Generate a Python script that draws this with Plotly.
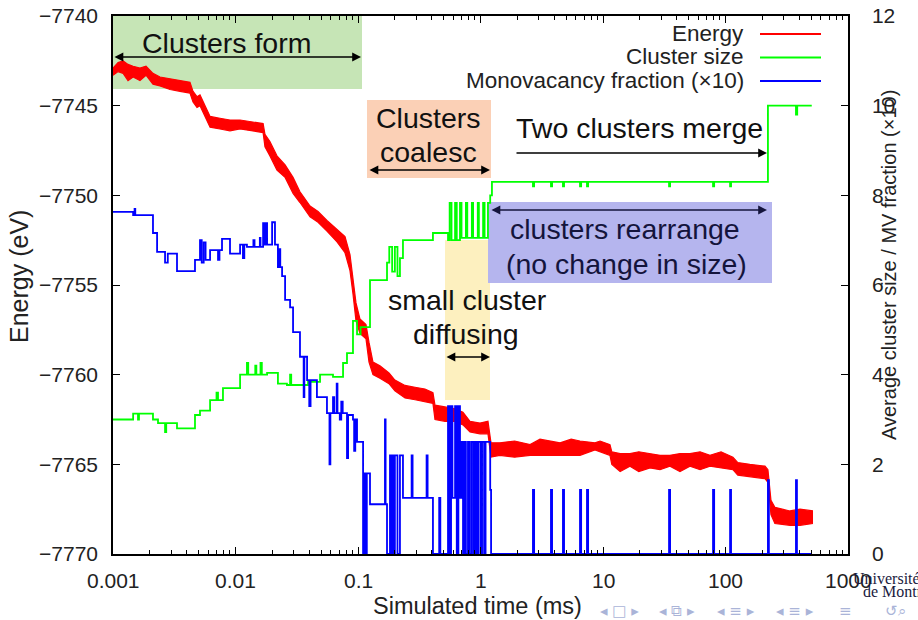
import math
import plotly.graph_objects as go

# ---------------------------------------------------------------- data
# Energy envelope (eV): the trace is noisy, so it is stored as upper/lower edges
energy_time = [0.001, 0.0011, 0.00121, 0.001326, 0.00146, 0.00166, 0.00186, 0.00212,
               0.00242, 0.00292, 0.00352, 0.00425, 0.0045, 0.00485, 0.00513, 0.00564,
               0.0062, 0.00747, 0.00902, 0.0109, 0.0131, 0.0158, 0.0168, 0.0174,
               0.0191, 0.0218, 0.0254, 0.0295, 0.0336, 0.0406, 0.0472, 0.0558,
               0.0674, 0.0783, 0.086, 0.091, 0.0963, 0.1038, 0.1162, 0.123,
               0.1325, 0.151, 0.179, 0.2, 0.242, 0.292, 0.352, 0.409,
               0.425, 0.513, 0.619, 0.719, 0.821, 0.991, 1.151, 1.218,
               1.44, 1.9, 2.54, 3.06, 4.46, 5.5, 6.49, 8.6,
               9.46, 11.4, 11.8, 13.8, 16.6, 19.6, 24.2, 29.2,
               35.2, 42.5, 51.3, 62, 74.7, 92, 115, 126,
               158, 210, 222, 235, 253, 336, 406, 518]
energy_hi = [-7742.9, -7742.6, -7742.5, -7742.7, -7742.8, -7742.9, -7742.8, -7743.2,
             -7743.4, -7743.5, -7743.6, -7743.7, -7744.2, -7744.5, -7744.4, -7745.0,
             -7745.6, -7745.7, -7745.8, -7745.8, -7745.9, -7746.0, -7746.0, -7746.6,
             -7747.0, -7747.8, -7748.3, -7749.0, -7749.8, -7750.6, -7750.9, -7751.4,
             -7751.9, -7752.3, -7753.3, -7754.5, -7756.0, -7756.9, -7757.2, -7758.2,
             -7759.3, -7759.5, -7759.9, -7760.3, -7760.6, -7760.7, -7760.8, -7761.0,
             -7761.7, -7761.8, -7761.9, -7762.1, -7762.6, -7762.7, -7762.6, -7763.8,
             -7763.8, -7763.7, -7763.9, -7763.6, -7763.8, -7763.6, -7763.7, -7763.8,
             -7763.7, -7763.9, -7764.3, -7764.4, -7764.4, -7764.3, -7764.4, -7764.5,
             -7764.5, -7764.4, -7764.4, -7764.3, -7764.5, -7764.3, -7764.6, -7764.9,
             -7765.0, -7765.1, -7765.3, -7767.0, -7767.4, -7767.6, -7767.5, -7767.6]
energy_lo = [-7743.3, -7743.1, -7743.2, -7743.6, -7743.4, -7743.6, -7743.3, -7743.8,
             -7743.9, -7744.1, -7744.2, -7744.3, -7744.8, -7745.1, -7745.0, -7745.6,
             -7746.2, -7746.3, -7746.4, -7746.3, -7746.4, -7746.5, -7746.5, -7747.3,
             -7747.8, -7748.6, -7749.0, -7749.9, -7750.4, -7751.2, -7751.5, -7752.0,
             -7752.6, -7753.2, -7754.2, -7755.5, -7757.0, -7757.7, -7758.0, -7759.3,
             -7760.0, -7760.2, -7760.5, -7760.9, -7761.3, -7761.4, -7761.5, -7761.6,
             -7762.5, -7762.6, -7762.6, -7762.8, -7763.2, -7763.3, -7763.3, -7764.6,
             -7764.5, -7764.6, -7764.5, -7764.5, -7764.5, -7764.5, -7764.5, -7764.2,
             -7764.3, -7764.5, -7765.0, -7765.4, -7765.1, -7765.4, -7765.2, -7765.3,
             -7765.1, -7765.4, -7765.1, -7765.3, -7765.1, -7765.2, -7765.3, -7765.6,
             -7765.7, -7765.8, -7766.0, -7767.8, -7768.3, -7768.4, -7768.4, -7768.3]

# Average cluster size (step data)
cluster_time = [0.001, 0.00146, 0.0016, 0.00163, 0.00212, 0.00233, 0.00266, 0.00272,
                0.00333, 0.00467, 0.00513, 0.0062, 0.0070, 0.0072, 0.0079, 0.0109,
                0.0124, 0.0127, 0.0145, 0.0148, 0.0160, 0.0164, 0.0181, 0.0222,
                0.0263, 0.0279, 0.0285, 0.0391, 0.049, 0.0625, 0.0755, 0.0813,
                0.091, 0.0982, 0.105, 0.1253, 0.1725, 0.18, 0.19, 0.20,
                0.21, 0.22, 0.2328, 0.409, 0.543, 0.56, 0.58, 0.62,
                0.64, 0.68, 0.70, 0.76, 0.78, 0.85, 0.87, 0.95,
                0.97, 1.05, 1.08, 1.15, 1.2, 1.24, 2.68, 2.74,
                3.76, 3.84, 4.71, 4.81, 6.49, 6.63, 7.40, 7.56,
                34.6, 35.3, 79.1, 80.8, 109, 111, 222, 376, 385, 506]
cluster_size = [3.0, 3.13, 3.0, 3.13, 3.0, 2.92, 2.72, 2.92,
                2.8, 3.1, 3.2, 3.43, 3.6, 3.43, 3.7, 4.0,
                4.26, 4.0, 4.2, 4.0, 4.26, 4.0, 4.04, 3.8,
                3.77, 4.0, 3.77, 3.84, 4.0, 3.95, 4.26, 4.48,
                5.2, 4.9, 5.06, 6.11, 6.5, 6.85, 6.3, 6.85,
                6.2, 6.6, 7.0, 7.16, 7.0, 7.83, 7.0, 7.83,
                7.0, 7.83, 7.05, 7.83, 7.05, 7.83, 7.05, 7.83,
                7.05, 7.83, 7.05, 7.83, 8.0, 8.3, 8.2, 8.3,
                8.2, 8.3, 8.2, 8.3, 8.2, 8.3, 8.2, 8.3,
                8.2, 8.3, 8.2, 8.3, 8.2, 8.3, 10.0, 9.8, 10.0, 10.0]

# Monovacancy fraction, scaled by 10 (step data)
mono_time = [0.001, 0.00146, 0.0015, 0.00152, 0.00212, 0.00229, 0.00266, 0.0028,
             0.00333, 0.00467, 0.00513, 0.0053, 0.0055, 0.0057, 0.0062, 0.0072,
             0.0074, 0.00776, 0.00902, 0.0109, 0.0115, 0.0118, 0.0124, 0.0140,
             0.0143, 0.0158, 0.0160, 0.0168, 0.0172, 0.0176, 0.0181, 0.0199,
             0.0210, 0.0222, 0.0228, 0.0232, 0.0240, 0.0254, 0.0279, 0.0295,
             0.0336, 0.0360, 0.0365, 0.0384, 0.0400, 0.0410, 0.0462, 0.0558,
             0.0585, 0.0595, 0.0625, 0.0640, 0.0670, 0.0680, 0.0710, 0.0730,
             0.0750, 0.0813, 0.0830, 0.0910, 0.0930, 0.0950, 0.0982, 0.1100,
             0.1130, 0.1160, 0.1180, 0.1253, 0.1660, 0.1680, 0.1725, 0.1824,
             0.1860, 0.1900, 0.1950, 0.2000, 0.2100, 0.2200, 0.2328, 0.2740,
             0.2790, 0.3630, 0.3700, 0.4090, 0.4600, 0.4700, 0.5430, 0.5600,
             0.5750, 0.5900, 0.6200, 0.6400, 0.6600, 0.6800, 0.7000, 0.7200,
             0.7400, 0.7600, 0.7900, 0.8100, 0.8400, 0.8700, 0.9000, 0.9300,
             0.9600, 1.0000, 1.0300, 1.0700, 1.1000, 1.2000, 1.2200, 2.68,
             2.74, 3.76, 3.84, 4.71, 4.81, 6.49, 6.63, 7.40,
             7.56, 34.6, 35.3, 79.1, 80.8, 109, 111, 222,
             226, 376, 383, 506]
mono_frac10 = [7.63, 7.56, 7.7, 7.56, 7.16, 6.74, 6.5, 6.7,
               6.31, 6.56, 7.0, 6.5, 6.95, 6.56, 6.78, 6.56,
               6.78, 7.03, 6.7, 6.9, 6.6, 6.9, 6.85, 7.0,
               6.85, 7.05, 6.85, 7.38, 6.9, 7.38, 6.9, 7.4,
               6.9, 6.4, 6.8, 6.4, 6.2, 5.67, 5.5, 4.95,
               4.4, 3.5, 4.4, 3.88, 3.3, 3.88, 3.5, 3.14,
               2.0, 3.14, 3.5, 3.14, 3.8, 3.14, 3.0, 3.4,
               3.14, 2.14, 3.1, 3.0, 2.3, 3.0, 2.5, 0.0,
               1.8, 0.0, 1.8, 1.11, 3.0, 1.11, 0.0, 2.2,
               0.0, 2.2, 0.0, 2.2, 0.0, 2.2, 1.25, 2.2,
               1.25, 2.2, 1.25, 0.0, 1.25, 0.0, 3.3, 0.0,
               3.3, 1.25, 3.3, 0.0, 3.3, 1.25, 2.5, 0.0,
               2.5, 0.0, 2.5, 0.0, 2.5, 0.0, 2.5, 0.0,
               2.5, 0.0, 2.5, 0.0, 2.5, 1.43, 0.0, 1.43,
               0.0, 1.43, 0.0, 1.43, 0.0, 1.43, 0.0, 1.43,
               0.0, 1.43, 0.0, 1.43, 0.0, 1.43, 0.0, 1.65,
               0.0, 1.65, 0.0, 0.0]

assert len(energy_time) == len(energy_hi) == len(energy_lo)
assert len(cluster_time) == len(cluster_size)
assert len(mono_time) == len(mono_frac10)

x_tick_vals = [0.001, 0.01, 0.1, 1, 10, 100, 1000]
x_tick_text = ["0.001", "0.01", "0.1", "1", "10", "100", "1000"]
x_minor_vals = [m * d for d in [0.001, 0.01, 0.1, 1, 10, 100] for m in range(2, 10)]
y_left_ticks = [-7770, -7765, -7760, -7755, -7750, -7745, -7740]
y_right_ticks = [0, 2, 4, 6, 8, 10, 12]

legend_names = ["Energy", "Cluster size", "Monovacancy fraction (\u00d710)"]
RED, GREEN, BLUE = "#ff0000", "#00ff00", "#0000ff"
legend_colors = [RED, GREEN, BLUE]

# ---------------------------------------------------------------- geometry
W, H = 918, 620
L, R, T, B = 113, 848, 16, 554          # plot area in page pixels
FONT = "Liberation Sans, Arial, Helvetica, sans-serif"
TICK_COLOR = "#222222"


def px(x):
    return (x - L) / (R - L)


def py(y):
    return (B - y) / (B - T)


fig = go.Figure()

# energy band
fig.add_trace(go.Scatter(x=energy_time, y=energy_hi, mode="lines",
                         line=dict(color=RED, width=1.2), yaxis="y",
                         showlegend=False, hoverinfo="skip"))
fig.add_trace(go.Scatter(x=energy_time, y=energy_lo, mode="lines",
                         line=dict(color=RED, width=1.2), fill="tonexty",
                         fillcolor=RED, yaxis="y", showlegend=False))
# cluster size
fig.add_trace(go.Scatter(x=cluster_time, y=cluster_size, mode="lines",
                         line=dict(color=GREEN, width=1.8, shape="hv"),
                         yaxis="y2", showlegend=False))
# monovacancy fraction
fig.add_trace(go.Scatter(x=mono_time, y=mono_frac10, mode="lines",
                         line=dict(color=BLUE, width=1.8, shape="hv"),
                         yaxis="y2", showlegend=False))

shapes = []
annotations = []


def box(x0, y0, x1, y1, color):
    shapes.append(dict(type="rect", xref="paper", yref="paper",
                       x0=px(x0), x1=px(x1), y0=py(y1), y1=py(y0),
                       fillcolor=color, line=dict(width=0), layer="below"))


def text(s, x, y, size=28.5, color="#111111", anchor="center", angle=0, family=FONT):
    annotations.append(dict(text=s, x=px(x), y=py(y), xref="paper", yref="paper",
                            showarrow=False, xanchor=anchor, yanchor="middle",
                            textangle=angle,
                            font=dict(family=family, size=size, color=color)))


def arrow(x_from, x_to, y, both=True, color="#000000"):
    annotations.append(dict(text="", x=px(x_to), y=py(y), xref="paper", yref="paper",
                            ax=x_from - x_to, ay=0, axref="pixel", ayref="pixel",
                            showarrow=True, arrowhead=2, arrowsize=1.1,
                            arrowwidth=1.6, arrowcolor=color,
                            arrowside="end+start" if both else "end",
                            standoff=0, startstandoff=0))


# time-axis labels, placed on the log axis itself
for v, lab in zip(x_tick_vals, x_tick_text):
    annotations.append(dict(text=lab, x=math.log10(v), xref="x",
                            y=py(580), yref="paper", showarrow=False,
                            xanchor="center", yanchor="middle",
                            font=dict(family=FONT, size=21, color=TICK_COLOR)))

# highlighted regions
box(113, 16, 362, 89, "#c6e5b6")
box(367, 100, 491, 178, "#fbd0b6")
box(445, 240, 490, 400, "#fdf0bf")
box(488, 202, 772, 283, "#b5b5ee")

text("Clusters form", 226, 43)
arrow(113, 361, 57)
text("Clusters", 428, 118)
text("coalesc", 428, 152)
arrow(368, 490, 170)
text("Two clusters merge", 639, 128)
arrow(515, 767, 153, both=False)
arrow(490, 767, 210, color="#14143c")
text("clusters rearrange", 625, 229, color="#14143c")
text("(no change in size)", 626, 264, color="#14143c")
text("small cluster", 467, 300)
text("diffusing", 466, 334)
arrow(445, 490, 357)

# legend (text on the left, line sample on the right)
for i, (name, col) in enumerate(zip(legend_names, legend_colors)):
    yy = 33 + i * 23.5
    text(name, 746, yy, size=22.5, color=TICK_COLOR, anchor="right")
    shapes.append(dict(type="line", xref="paper", yref="paper",
                       x0=px(760), x1=px(821), y0=py(yy + 1), y1=py(yy + 1),
                       line=dict(color=col, width=1.8)))

# axis titles
text("Energy (eV)", 19, 277, size=25, color=TICK_COLOR, angle=-90)
text("Simulated time (ms)", 477, 606, size=23.5, color=TICK_COLOR)
text("Average cluster size / MV fraction (\u00d710)", 889, 265, size=20,
     color=TICK_COLOR, angle=-90)

# slide decorations along the bottom edge
text("Universit\u00e9", 851, 578, size=16, color="#1a1a40", anchor="left",
     family="Liberation Serif, serif")
text("de Montr\u00e9al", 861, 591, size=16, color="#1a1a40", anchor="left",
     family="Liberation Serif, serif")
NAV = "#aab4d8"
for label, xc in [("\u25c2 \u25a1 \u25b8", 619), ("\u25c2 \u29c9 \u25b8", 677),
                  ("\u25c2 \u2261 \u25b8", 736), ("\u25c2 \u2261 \u25b8", 795),
                  ("\u2261", 845), ("\u21ba\u2315", 896)]:
    text(label, xc, 611, size=15, color=NAV, family="DejaVu Sans")

axis_font = dict(family=FONT, size=21, color=TICK_COLOR)

fig.update_layout(
    width=W, height=H,
    margin=dict(l=L, r=W - R, t=T, b=H - B, pad=0, autoexpand=False),
    paper_bgcolor="white", plot_bgcolor="white",
    showlegend=False,
    shapes=shapes, annotations=annotations,
    xaxis=dict(type="log", range=[-3, 3], tickmode="array",
               tickvals=x_tick_vals, showticklabels=False, automargin=False,
               ticks="inside", ticklen=7, tickwidth=1.3, tickcolor="black",
               minor=dict(tickmode="array", tickvals=x_minor_vals, ticks="inside",
                          ticklen=4, tickwidth=1, tickcolor="black", showgrid=False),
               showline=True, linecolor="black", linewidth=1.5, mirror="ticks",
               showgrid=False, zeroline=False),
    yaxis=dict(range=[-7770, -7740], tickmode="array", tickvals=y_left_ticks,
               automargin=False,
               ticks="inside", ticklen=7, tickwidth=1.3, tickcolor="black",
               showline=True, linecolor="black", linewidth=1.5,
               showgrid=False, zeroline=False, tickfont=axis_font,
               ticklabelstandoff=9),
    yaxis2=dict(range=[0, 12], tickmode="array", tickvals=y_right_ticks,
                overlaying="y", side="right", anchor="x", automargin=False,
                ticks="inside", ticklen=7, tickwidth=1.3, tickcolor="black",
                showline=True, linecolor="black", linewidth=1.5,
                showgrid=False, zeroline=False, tickfont=axis_font,
                ticklabelstandoff=18),
)

fig.write_html("out.html")
